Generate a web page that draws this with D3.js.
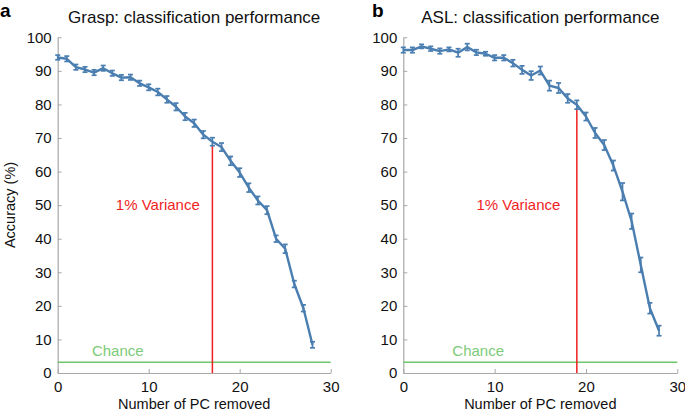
<!DOCTYPE html>
<html><head><meta charset="utf-8">
<script src="https://cdn.jsdelivr.net/npm/d3@7"></script>
<style>body{margin:0;background:#fff;} svg{display:block;font-family:"Liberation Sans",Arial,sans-serif;}</style>
</head><body>
<svg id="c" width="685" height="412"></svg>
<script>
const pcRemoved = d3.range(0, 29);
const graspAcc = [94.0,93.6,91.1,90.4,89.5,90.8,89.3,88.0,88.1,86.3,85.1,83.7,81.5,79.3,76.4,74.4,71.0,68.9,67.3,63.2,59.7,55.2,51.4,48.5,40.0,37.0,26.5,19.3,8.4];
const graspErr = [0.7,0.8,0.8,0.8,0.8,0.8,0.8,0.8,0.8,0.8,0.9,1.0,1.0,1.1,1.1,1.1,1.1,1.2,1.2,1.3,1.3,1.3,1.2,1.2,1.0,1.3,1.0,1.0,0.9];
const aslAcc = [96.2,96.2,97.3,96.6,95.9,96.4,95.4,97.1,95.5,95.1,93.9,93.9,92.3,90.3,88.6,90.1,85.6,84.9,81.8,79.9,76.4,71.5,67.9,61.8,54.0,45.2,32.2,19.3,12.6];
const aslErr = [0.8,0.8,0.6,0.7,0.8,0.6,1.2,1.0,0.8,0.6,0.8,0.8,1.0,1.2,1.3,1.2,1.5,1.5,1.3,1.3,1.2,1.5,1.5,1.5,2.6,2.3,2.2,1.6,1.5];
const xTicks = [0,10,20,30];
const yTicks = [0,10,20,30,40,50,60,70,80,90,100];
const chanceLevel = 3.2;
const panels = [
  {letter:"a", title:"Grasp: classification performance", acc:graspAcc, err:graspErr, variancePC:17, varianceTop:67.6, x0:57.7, x1:330.7, varX:11.0, chanceX:6.6},
  {letter:"b", title:"ASL: classification performance", acc:aslAcc, err:aslErr, variancePC:19, varianceTop:78.4, x0:403.3, x1:677.3, varX:12.6, chanceX:8.2}
];
const svg = d3.select("#c");
const yTop = 37.3, yBot = 373;
const blue = "#4a7eb0", axisCol = "#a8a8a8";
const y = d3.scaleLinear().domain([0,100]).range([yBot, yTop]);

panels.forEach(p => {
  const x = d3.scaleLinear().domain([0,30]).range([p.x0, p.x1]);
  const g = svg.append("g");
  const ax = g.append("g").attr("transform",`translate(0,${yBot})`)
    .call(d3.axisBottom(x).tickValues(xTicks).tickSizeInner(-4).tickSizeOuter(0).tickPadding(6));
  const ay = g.append("g").attr("transform",`translate(${p.x0},0)`)
    .call(d3.axisLeft(y).tickValues(yTicks).tickSizeInner(-4).tickSizeOuter(0).tickPadding(6));
  [ax, ay].forEach(a => {
    a.select(".domain").attr("stroke", axisCol).attr("stroke-width",1.2);
    a.selectAll(".tick line").attr("stroke", axisCol);
    a.selectAll(".tick text").attr("fill","#111").style("font-size","15px").style("font-family","'Liberation Sans',Arial,sans-serif");
  });
  ax.selectAll(".tick text").attr("dy","0.85em");
  g.append("line").attr("x1",x(0)).attr("x2",x(30)).attr("y1",y(chanceLevel)).attr("y2",y(chanceLevel))
    .attr("stroke","#6cc86a").attr("stroke-width",1.5);
  g.append("text").attr("x",x(p.chanceX)).attr("y",y(chanceLevel)-6).attr("text-anchor","middle")
    .attr("fill","#7dcb78").style("font-size","15px").text("Chance");
  g.append("line").attr("x1",x(p.variancePC)).attr("x2",x(p.variancePC)).attr("y1",yBot).attr("y2",y(p.varianceTop))
    .attr("stroke","#f01e1e").attr("stroke-width",1.5);
  g.append("text").attr("x",x(p.varX)).attr("y",y(50)+5).attr("text-anchor","middle")
    .attr("fill","#f01e1e").style("font-size","15px").text("1% Variance");
  const line = d3.line().x((d,i)=>x(pcRemoved[i])).y(d=>y(d));
  g.append("path").datum(p.acc).attr("d",line).attr("fill","none").attr("stroke",blue).attr("stroke-width",2.4).attr("stroke-linejoin","round");
  const eb = g.append("g").attr("stroke",blue).attr("stroke-width",1.7);
  p.acc.forEach((v,i)=>{
    const cx = x(pcRemoved[i]), e = p.err[i];
    eb.append("line").attr("x1",cx).attr("x2",cx).attr("y1",y(v-e)).attr("y2",y(v+e));
    eb.append("line").attr("x1",cx-2.5).attr("x2",cx+2.5).attr("y1",y(v-e)).attr("y2",y(v-e));
    eb.append("line").attr("x1",cx-2.5).attr("x2",cx+2.5).attr("y1",y(v+e)).attr("y2",y(v+e));
  });
  g.append("text").attr("x",(p.x0+p.x1)/2).attr("y",23).attr("text-anchor","middle")
    .attr("fill","#111").style("font-size","17px").text(p.title);
  g.append("text").attr("x",(p.x0+p.x1)/2).attr("y",409).attr("text-anchor","middle")
    .attr("fill","#111").style("font-size","14.5px").text("Number of PC removed");
  g.append("text").attr("x",p.letter==="a"?0:372).attr("y",17).attr("fill","#000")
    .style("font-size","19px").style("font-weight","bold").text(p.letter);
});
svg.append("text").attr("transform","translate(15,205) rotate(-90)").attr("text-anchor","middle")
  .attr("fill","#111").style("font-size","14.5px").text("Accuracy (%)");
</script>
</body></html>
